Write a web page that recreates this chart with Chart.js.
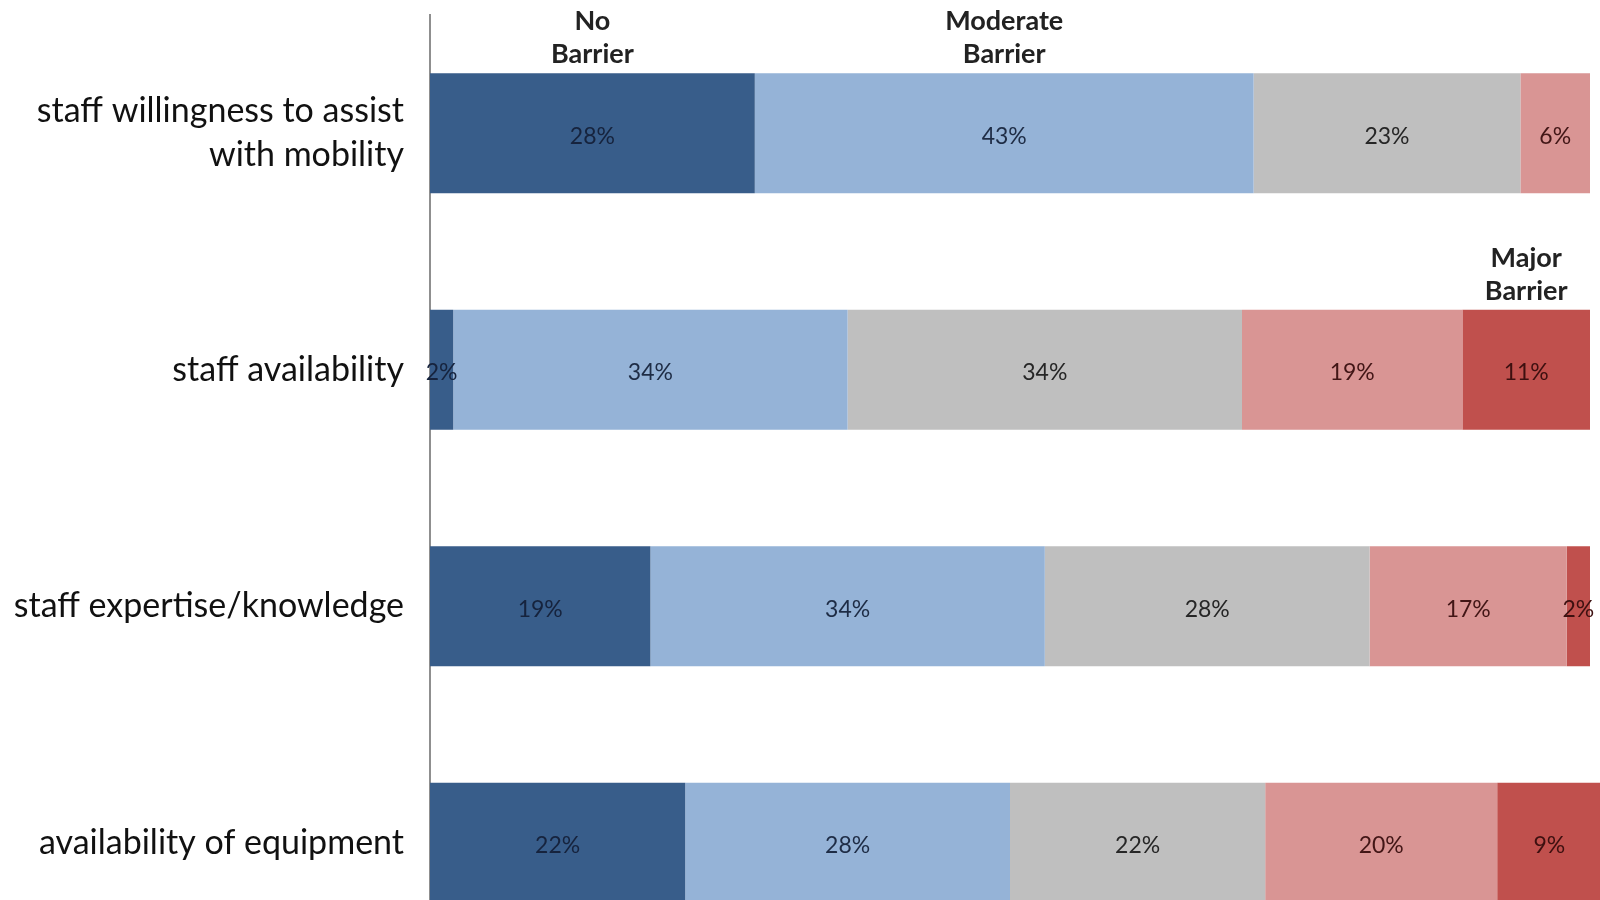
<!DOCTYPE html>
<html>
<head>
<meta charset="utf-8">
<title>Barriers to mobility</title>
<script src="https://cdn.jsdelivr.net/npm/chart.js@4.4.1/dist/chart.umd.min.js"></script>
<style>
  html, body { margin: 0; padding: 0; background: #fff; overflow: hidden; }
  #chart { display: block; }
</style>
</head>
<body>
<canvas id="chart" width="1600" height="962"></canvas>
<script>
// Categories (top to bottom) and share of respondents per barrier level
const categories = [
  ["staff willingness to assist", "with mobility"],
  "staff availability",
  "staff expertise/knowledge",
  "availability of equipment",
];
const seriesNames = ["No Barrier", "Moderate Barrier", "Neutral", "Some Barrier", "Major Barrier"];
const noBarrier = [28, 2, 19, 22];
const lowBarrier = [43, 34, 34, 28];
const midBarrier = [23, 34, 28, 22];
const highBarrier = [6, 19, 17, 20];
const majorBarrier = [null, 11, 2, 9];

// header captions: text lines, dataset index, category index it sits over
const headerTexts = [["No", "Barrier"], ["Moderate", "Barrier"], ["Major", "Barrier"]];
const headerDataset = [0, 1, 4];
const headerCategory = [0, 0, 1];

const fillColors = ["#385d8a", "#95b3d7", "#bfbfbf", "#d99594", "#c0504d"];
const labelColors = ["#16233d", "#1e2c45", "#262626", "#421616", "#3d1010"];

const seriesValues = [noBarrier, lowBarrier, midBarrier, highBarrier, majorBarrier];

const segmentLabels = {
  id: "segmentLabels",
  afterDatasetsDraw(chart) {
    const ctx = chart.ctx;
    ctx.save();
    ctx.font = "23px Lato";
    ctx.textAlign = "center";
    ctx.textBaseline = "middle";
    chart.data.datasets.forEach((ds, di) => {
      const meta = chart.getDatasetMeta(di);
      meta.data.forEach((bar, i) => {
        const v = ds.data[i];
        if (v == null) return;
        const p = bar.getProps(["x", "y", "base"], true);
        ctx.fillStyle = labelColors[di];
        ctx.fillText(v + "%", (p.x + p.base) / 2, p.y + 3);
      });
    });
    ctx.restore();
  },
};

const headerLabels = {
  id: "headerLabels",
  afterDatasetsDraw(chart) {
    const ctx = chart.ctx;
    ctx.save();
    ctx.font = "bold 27px Lato";
    ctx.fillStyle = "#222";
    ctx.textAlign = "center";
    ctx.textBaseline = "middle";
    headerTexts.forEach((lines, k) => {
      const bar = chart.getDatasetMeta(headerDataset[k]).data[headerCategory[k]];
      const p = bar.getProps(["x", "y", "base", "height"], true);
      const cx = (p.x + p.base) / 2;
      const top = p.y - p.height / 2;
      ctx.fillText(lines[0], cx, top - 52);
      ctx.fillText(lines[1], cx, top - 19);
    });
    ctx.restore();
  },
};

const chart = new Chart(document.getElementById("chart").getContext("2d"), {
  type: "bar",
  data: {
    labels: categories,
    datasets: seriesValues.map((vals, i) => ({
      label: seriesNames[i],
      data: vals,
      backgroundColor: fillColors[i],
      borderWidth: 0,
      barPercentage: 0.507,
      categoryPercentage: 1,
      clip: false,
    })),
  },
  options: {
    indexAxis: "y",
    responsive: false,
    animation: false,
    layout: { padding: { left: 0, right: 10, top: 15, bottom: 1 } },
    scales: {
      x: {
        stacked: true,
        display: false,
        min: 0,
        max: 100,
      },
      y: {
        stacked: true,
        grid: { display: false, drawTicks: false },
        border: { display: true, color: "#8f8f8f", width: 2 },
        afterFit(scale) {
          // fixed axis column, and no extra room for the long first label
          scale.width = 430;
          scale.paddingTop = 0;
          scale.paddingBottom = 0;
        },
        ticks: {
          padding: 26,
          color: "#111",
          font: { family: "Lato", size: 34, lineHeight: 1.28 },
        },
      },
    },
    plugins: {
      legend: { display: false },
      tooltip: { enabled: false },
    },
  },
  plugins: [segmentLabels, headerLabels],
});
</script>
</body>
</html>
